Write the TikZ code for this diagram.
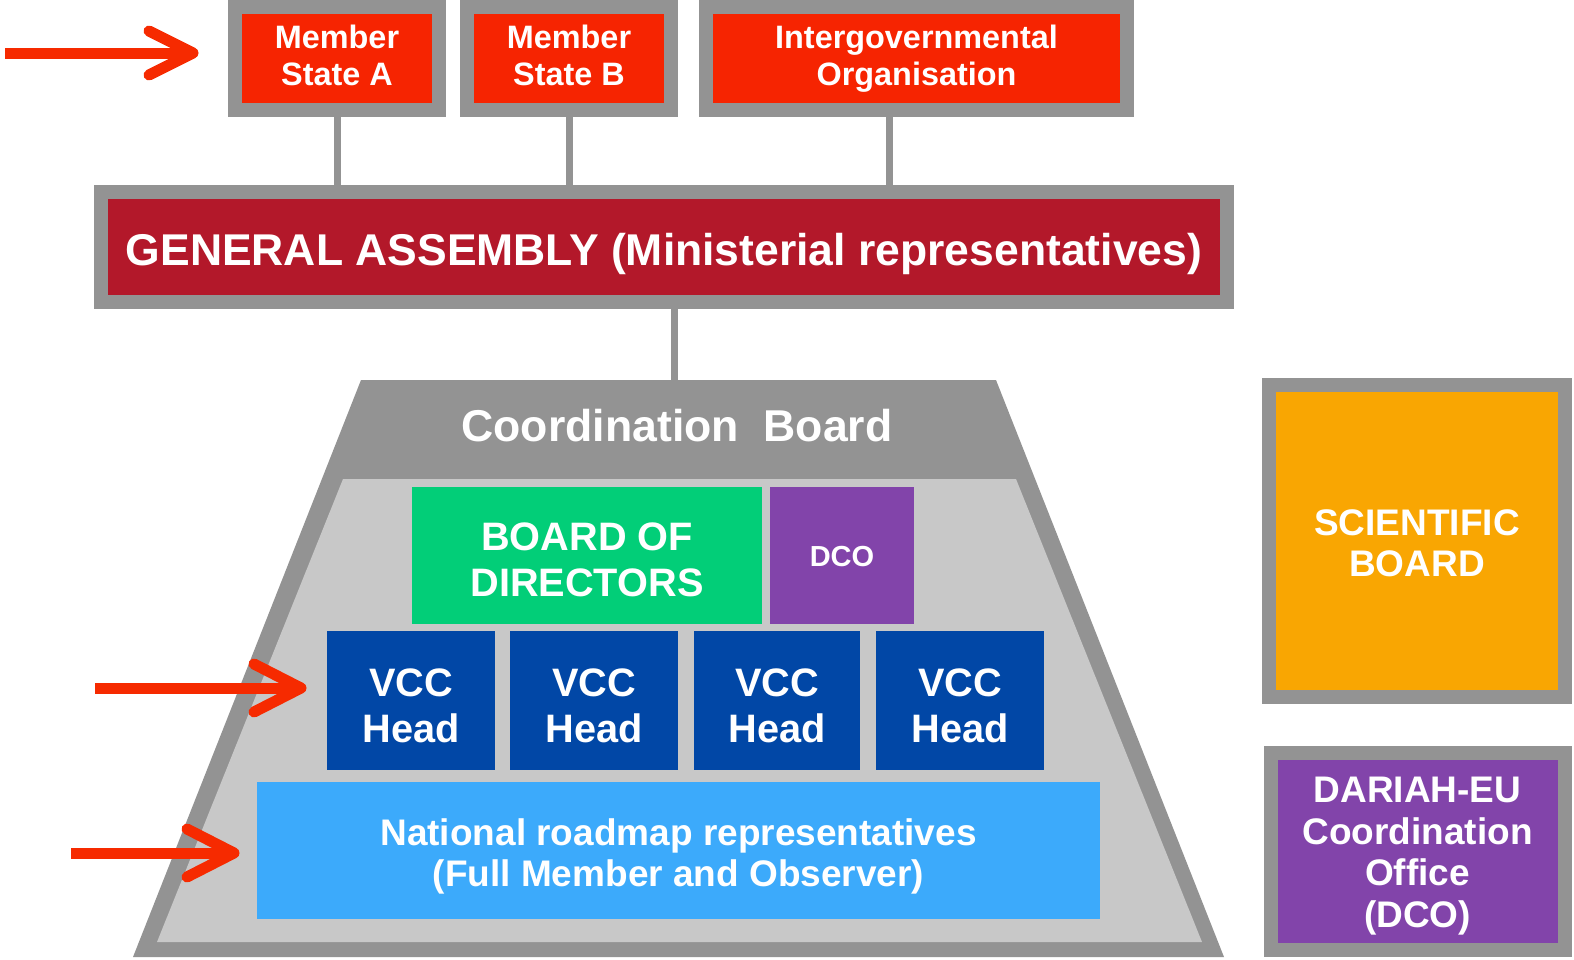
\documentclass[tikz,border=0pt]{standalone}
\usepackage{fontspec}
\setmainfont{Liberation Sans}
\usetikzlibrary{calc}
\definecolor{bordergray}{HTML}{939393}
\definecolor{innergray}{HTML}{C8C8C8}
\definecolor{boxred}{HTML}{F62401}
\definecolor{gared}{HTML}{B3182A}
\definecolor{bodgreen}{HTML}{02CE78}
\definecolor{dcopurple}{HTML}{8244AA}
\definecolor{vccblue}{HTML}{0147A6}
\definecolor{natblue}{HTML}{3CAAFB}
\definecolor{sborange}{HTML}{F9A602}
\definecolor{arrowred}{HTML}{F62A00}
\newlength{\tdrop}
\newcommand{\dn}[1]{\raisebox{-\tdrop}[\height][\depth]{#1}}
\begin{document}
\begin{tikzpicture}[x=1pt,y=-1pt,
  framed/.style={draw=bordergray, line width=14pt, inner sep=0pt, text=white, align=center},
  plain/.style={inner sep=0pt, text=white, align=center},
  textdrop/.style={execute at begin node={\setlength{\tdrop}{#1}}},
  conn/.style={draw=bordergray, line width=7pt},
  shaft/.style={draw=arrowred, line width=11pt},
  barb/.style={draw=arrowred, line width=11pt, line cap=round, line join=round},
  fa/.style={font=\fontsize{32.4}{37}\selectfont\bfseries},
  fb/.style={font=\fontsize{39.7}{46}\selectfont\bfseries},
  fc/.style={font=\fontsize{37}{41.5}\selectfont\bfseries}]
\useasboundingbox (0,0) rectangle (1574,959);
\fill[white] (0,0) rectangle (1574,959);

% top boxes
\node[framed, fa, textdrop=-3pt, fill=boxred, minimum width=204pt, minimum height=103pt] (msa) at (337,58.5) {\dn{Member}\\\dn{State A}};
\node[framed, fa, textdrop=-3pt, fill=boxred, minimum width=204pt, minimum height=103pt] (msb) at (569,58.5) {\dn{Member}\\\dn{State B}};
\node[framed, fa, textdrop=0pt, fill=boxred, minimum width=421pt, minimum height=103pt] (igo) at (916.5,58.5) {\dn{Intergovernmental}\\\dn{Organisation}};

% general assembly
\node[framed, textdrop=7pt, fill=gared, minimum width=1126pt, minimum height=110pt, font=\fontsize{44.5}{50}\selectfont\bfseries] (ga) at (664,246.5) {\dn{GENERAL ASSEMBLY (Ministerial representatives)}};

\draw[conn] (msa.south) -- (msa.south |- ga.north);
\draw[conn] (msb.south) -- (msb.south |- ga.north);
\draw[conn] ([xshift=-27pt]igo.south) -- ([xshift=-27pt]igo.south |- ga.north);

% coordination board trapezoid
\fill[bordergray] (361,380) -- (996,380) -- (1224,957) -- (133,957) -- cycle;
\fill[innergray] (343,479) -- (1016,479) -- (1202,942) -- (157,942) -- cycle;
\coordinate (cbtop) at (674,380);
\node[text=white, inner sep=0pt, anchor=base, font=\fontsize{44.6}{50}\selectfont\bfseries] (cb) at (677,441) {Coordination\ \ Board};
\draw[conn] (ga.south -| cbtop) -- (cbtop);

\node[plain, fb, textdrop=4pt, fill=bodgreen, minimum width=350pt, minimum height=137pt] (bod) at (587,555.5) {\dn{BOARD OF}\\\dn{DIRECTORS}};
\node[plain, textdrop=1.5pt, fill=dcopurple, minimum width=144pt, minimum height=137pt, font=\fontsize{29}{33}\selectfont\bfseries] (dco) at (842,555.5) {\dn{DCO}};

\node[plain, fb, textdrop=5pt, fill=vccblue, minimum width=168pt, minimum height=139pt] (vcc1) at (411,700.5) {\dn{VCC}\\\dn{Head}};
\node[plain, fb, textdrop=5pt, fill=vccblue, minimum width=168pt, minimum height=139pt] (vcc2) at (594,700.5) {\dn{VCC}\\\dn{Head}};
\node[plain, fb, textdrop=5pt, fill=vccblue, minimum width=166pt, minimum height=139pt] (vcc3) at (777,700.5) {\dn{VCC}\\\dn{Head}};
\node[plain, fb, textdrop=5pt, fill=vccblue, minimum width=168pt, minimum height=139pt] (vcc4) at (960,700.5) {\dn{VCC}\\\dn{Head}};

\node[plain, fc, textdrop=6pt, fill=natblue, minimum width=843pt, minimum height=137pt] (nat) at (678.5,850.5) {\dn{National roadmap representatives}\\\dn{(Full Member and Observer)}};

% right boxes
\node[framed, fc, textdrop=3pt, fill=sborange, minimum width=296pt, minimum height=312pt] (sb) at (1417,540.5) {\dn{SCIENTIFIC}\\\dn{BOARD}};
\node[framed, fc, textdrop=5pt, fill=dcopurple, minimum width=294pt, minimum height=197pt] (dcoeu) at (1417.5,851) {\dn{DARIAH-EU}\\\dn{Coordination}\\\dn{Office}\\\dn{(DCO)}};

% red arrows
\coordinate (a1s) at (5,53);
\coordinate (a1t) at (193,53);
\draw[shaft] (a1s) -- (a1t);
\draw[barb] ($(a1t)+(-44,-22)$) -- (a1t) -- ($(a1t)+(-44,22)$);

\coordinate (a2s) at (95,688);
\coordinate (a2t) at (301,688);
\draw[shaft] (a2s) -- (a2t);
\draw[barb] ($(a2t)+(-47,-24)$) -- (a2t) -- ($(a2t)+(-47,24)$);

\coordinate (a3s) at (71,853);
\coordinate (a3t) at (234,853);
\draw[shaft] (a3s) -- (a3t);
\draw[barb] ($(a3t)+(-47,-24)$) -- (a3t) -- ($(a3t)+(-47,24)$);
\end{tikzpicture}
\end{document}
